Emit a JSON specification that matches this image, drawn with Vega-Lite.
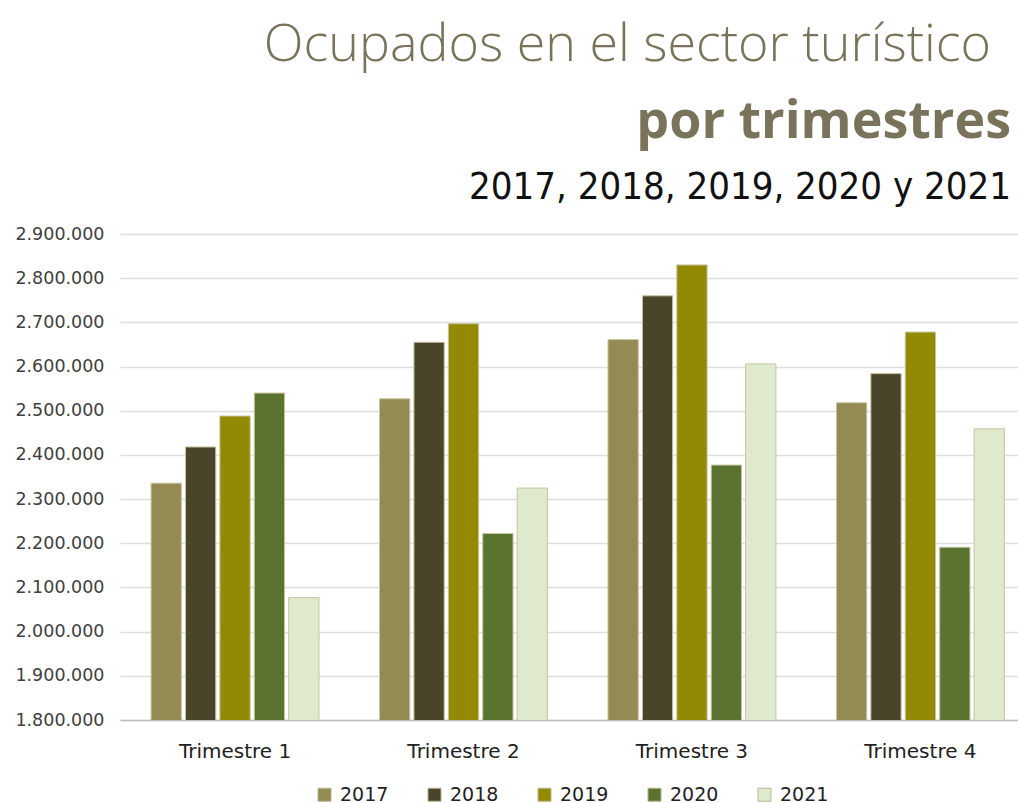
{
  "$schema": "https://vega.github.io/schema/vega-lite/v6.json",
  "padding": {"left": 14, "right": 0, "top": 19, "bottom": 0},
  "autosize": {"type": "pad"},
  "background": "white",
  "config": {
    "locale": {"number": {"decimal": ",", "thousands": ".", "grouping": [3], "currency": ["", " €"]}},
    "view": {"stroke": null},
    "font": "DejaVu Sans"
  },
  "title": {
    "text": "Ocupados en el sector turístico",
    "anchor": "end",
    "font": "Open Sans",
    "fontSize": 52,
    "fontWeight": 300,
    "color": "#78735a",
    "offset": 24,
    "dx": -28
  },
  "vconcat": [
    {
      "title": {
        "text": "por trimestres",
        "subtitle": "2017, 2018, 2019, 2020 y 2021",
        "anchor": "end",
        "font": "Open Sans",
        "fontSize": 52,
        "fontWeight": "bold",
        "color": "#78735a",
        "subtitleFont": "DejaVu Sans Condensed",
        "subtitleFontSize": 38,
        "subtitleFontWeight": "normal",
        "subtitleColor": "#111111",
        "subtitlePadding": 20,
        "offset": 17,
        "dx": -8
      },
      "width": 899,
      "height": 486,
      "data": {
        "values": [
          {"trimestre": "Trimestre 1", "anio": "2017", "ocupados": 2336000},
          {"trimestre": "Trimestre 1", "anio": "2018", "ocupados": 2418000},
          {"trimestre": "Trimestre 1", "anio": "2019", "ocupados": 2488000},
          {"trimestre": "Trimestre 1", "anio": "2020", "ocupados": 2540000},
          {"trimestre": "Trimestre 1", "anio": "2021", "ocupados": 2077000},
          {"trimestre": "Trimestre 2", "anio": "2017", "ocupados": 2527000},
          {"trimestre": "Trimestre 2", "anio": "2018", "ocupados": 2655000},
          {"trimestre": "Trimestre 2", "anio": "2019", "ocupados": 2697000},
          {"trimestre": "Trimestre 2", "anio": "2020", "ocupados": 2222000},
          {"trimestre": "Trimestre 2", "anio": "2021", "ocupados": 2325000},
          {"trimestre": "Trimestre 3", "anio": "2017", "ocupados": 2661000},
          {"trimestre": "Trimestre 3", "anio": "2018", "ocupados": 2760000},
          {"trimestre": "Trimestre 3", "anio": "2019", "ocupados": 2830000},
          {"trimestre": "Trimestre 3", "anio": "2020", "ocupados": 2377000},
          {"trimestre": "Trimestre 3", "anio": "2021", "ocupados": 2606000},
          {"trimestre": "Trimestre 4", "anio": "2017", "ocupados": 2518000},
          {"trimestre": "Trimestre 4", "anio": "2018", "ocupados": 2584000},
          {"trimestre": "Trimestre 4", "anio": "2019", "ocupados": 2678000},
          {"trimestre": "Trimestre 4", "anio": "2020", "ocupados": 2191000},
          {"trimestre": "Trimestre 4", "anio": "2021", "ocupados": 2459000}
        ]
      },
      "mark": {"type": "bar", "stroke": "#c9c3a0", "strokeWidth": 1, "clip": true},
      "encoding": {
        "x": {
          "field": "trimestre",
          "type": "nominal",
          "scale": {"paddingInner": 0.265, "paddingOuter": 0.1, "align": 0.68},
          "axis": {
            "title": null,
            "labelAngle": 0,
            "labelFontSize": 20,
            "labelColor": "#222222",
            "labelPadding": 21,
            "ticks": false,
            "domainColor": "#bfbfbf",
            "domainWidth": 1.5
          }
        },
        "xOffset": {"field": "anio", "type": "nominal", "scale": {"paddingInner": 0.12}},
        "y": {
          "field": "ocupados",
          "type": "quantitative",
          "scale": {"domain": [1800000, 2900000], "zero": false, "nice": false},
          "axis": {
            "title": null,
            "format": ",d",
            "values": [1800000, 1900000, 2000000, 2100000, 2200000, 2300000, 2400000, 2500000, 2600000, 2700000, 2800000, 2900000],
            "labelFontSize": 17.5,
            "labelColor": "#404040",
            "domain": false,
            "ticks": false,
            "labelPadding": 16,
            "gridColor": "#dedede",
            "gridWidth": 1.5
          }
        },
        "color": {
          "field": "anio",
          "type": "nominal",
          "scale": {
            "domain": ["2017", "2018", "2019", "2020", "2021"],
            "range": ["#948a54", "#4a452a", "#938a04", "#5b7330", "#dfe9cd"]
          },
          "legend": {
            "orient": "none",
            "legendX": 195,
            "legendY": 551,
            "padding": 0,
            "direction": "horizontal",
            "title": null,
            "symbolType": "square",
            "symbolSize": 170,
            "symbolStrokeColor": "#bdb794",
            "symbolStrokeWidth": 1,
            "labelFontSize": 19,
            "labelColor": "#222222",
            "labelOffset": 6,
            "columnPadding": 36
          }
        }
      }
    }
  ]
}
